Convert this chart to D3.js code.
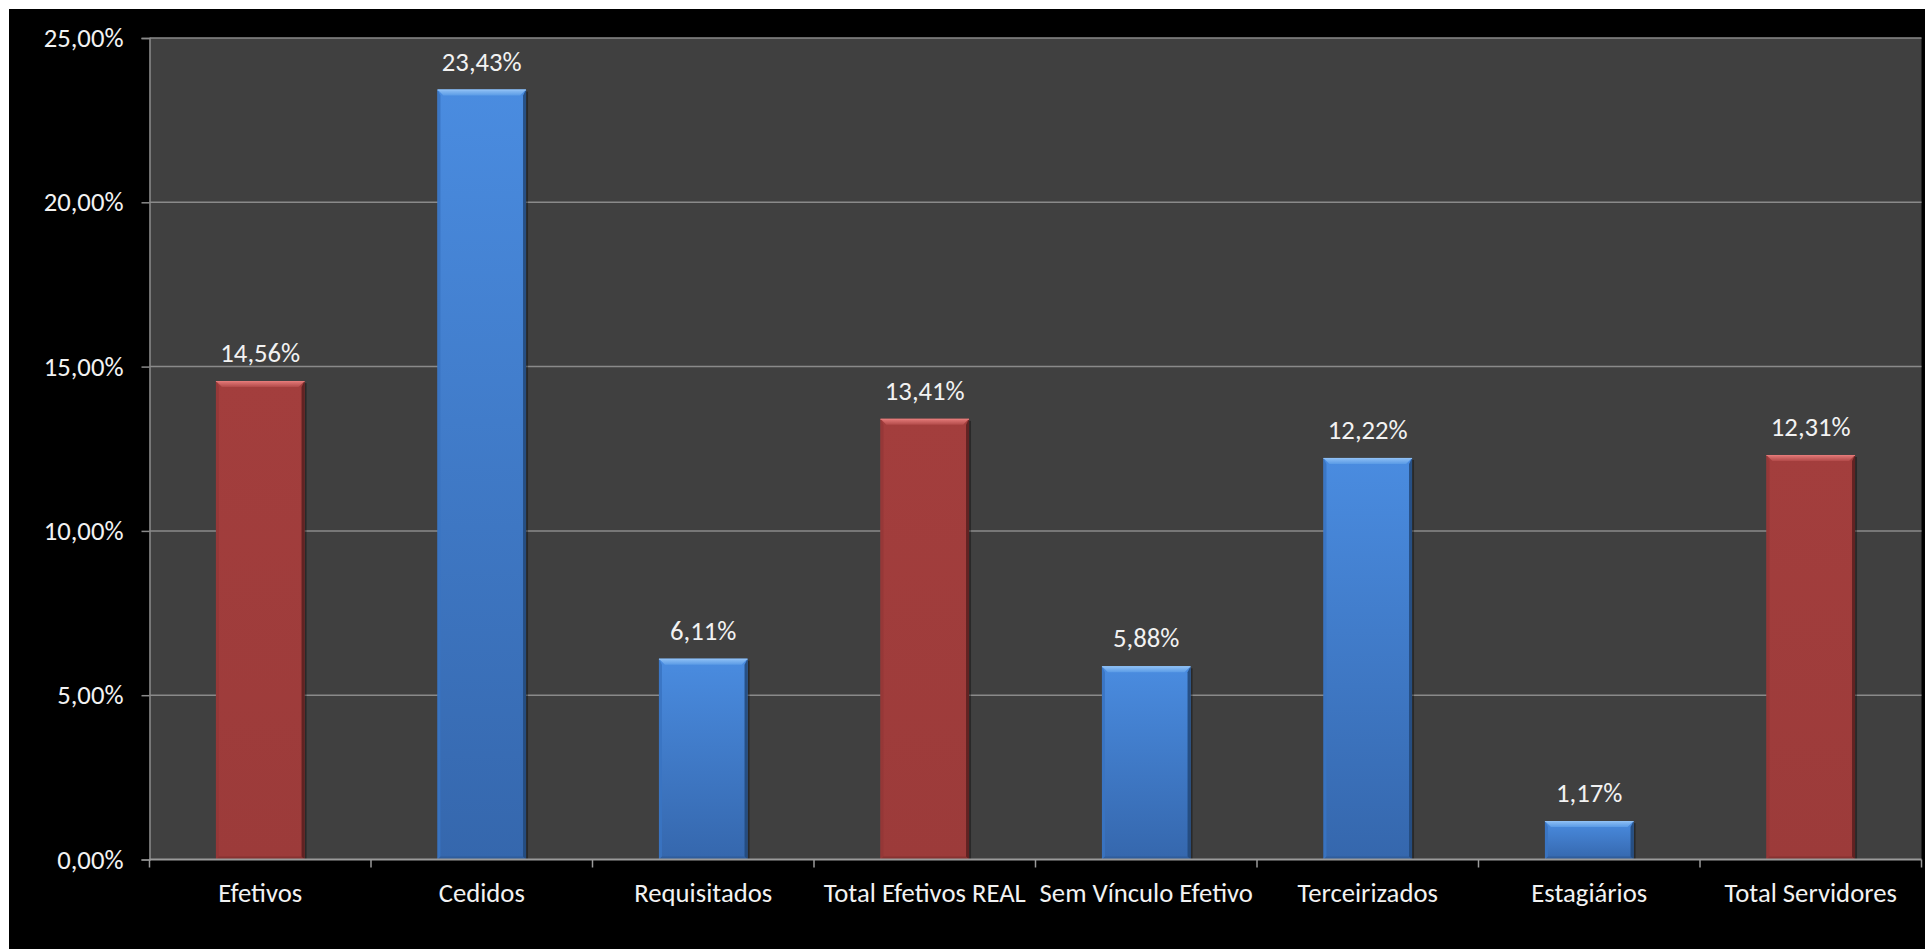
<!DOCTYPE html>
<html>
<head>
<meta charset="utf-8">
<script src="https://cdn.jsdelivr.net/npm/d3@7"></script>
<style>
  html, body { margin: 0; padding: 0; background: #ffffff; }
  svg { display: block; }
  text { font-family: Carlito, Lato, "Liberation Sans", sans-serif; }
</style>
</head>
<body>
<svg id="chart" width="1925" height="949"></svg>
<script>
const categories = ["Efetivos", "Cedidos", "Requisitados", "Total Efetivos REAL", "Sem Vínculo Efetivo", "Terceirizados", "Estagiários", "Total Servidores"];
const values = [14.56, 23.43, 6.11, 13.41, 5.88, 12.22, 1.17, 12.31];
const barKinds = ["red", "blue", "blue", "red", "blue", "blue", "blue", "red"];
const yTicks = [0, 5, 10, 15, 20, 25];

const svg = d3.select("#chart");
const W = 1925, H = 949;
const plot = { left: 149.5, right: 1921.5, top: 38, bottom: 859.5 };
const FS = 26.7;

svg.append("rect").attr("x", 9).attr("y", 9).attr("width", W - 9).attr("height", H - 9).attr("fill", "#000");
svg.append("rect").attr("x", plot.left).attr("y", plot.top)
  .attr("width", plot.right - plot.left).attr("height", plot.bottom - plot.top).attr("fill", "#404040");

const x = d3.scaleBand().domain(categories).range([plot.left, plot.right]).padding(0);
const y = d3.scaleLinear().domain([0, 25]).range([plot.bottom, plot.top]);
const fmt = v => d3.format(".2f")(v).replace(".", ",") + "%";

// gradients
const defs = svg.append("defs");
const palette = {
  blue: { top: "#4a8ce0", bottom: "#3567ad", bevelTop: ["#8fc0f5", "#5a9be6"], side: "#3a74c2", sideDark: "#24497a", bottomBevel: "#2f5d9c" },
  red:  { top: "#a33e3d", bottom: "#9c3b3a", bevelTop: ["#e47a79", "#b24a49"], side: "#953737", sideDark: "#5a2020", bottomBevel: "#873231" }
};
Object.entries(palette).forEach(([k, p]) => {
  const g = defs.append("linearGradient").attr("id", "body-" + k).attr("x1", 0).attr("y1", 0).attr("x2", 0).attr("y2", 1);
  g.append("stop").attr("offset", "0%").attr("stop-color", p.top);
  g.append("stop").attr("offset", "100%").attr("stop-color", p.bottom);
  const t = defs.append("linearGradient").attr("id", "bevel-" + k).attr("x1", 0).attr("y1", 0).attr("x2", 0).attr("y2", 1);
  t.append("stop").attr("offset", "0%").attr("stop-color", p.bevelTop[0]);
  t.append("stop").attr("offset", "100%").attr("stop-color", p.bevelTop[1]);
});

// gridlines
svg.append("g").selectAll("line").data(yTicks.filter(d => d > 0)).join("line")
  .attr("x1", plot.left).attr("x2", plot.right)
  .attr("y1", d => y(d)).attr("y2", d => y(d))
  .attr("stroke", "#8a8a8a").attr("stroke-width", 1.5);

// bars
const bw = x.bandwidth() * 0.4;
const bars = svg.append("g").selectAll("g").data(categories.map((c, i) => ({ c, v: values[i], k: barKinds[i] }))).join("g");
const bev = 6;
bars.each(function(d) {
  const g = d3.select(this);
  const x0 = x(d.c) + (x.bandwidth() - bw) / 2, x1 = x0 + bw;
  const y0 = y(d.v), y1 = y(0);
  const p = palette[d.k];
  const b = Math.min(bev, (y1 - y0) / 2);
  g.append("rect").attr("x", x0 + 2).attr("y", y0 + 2).attr("width", bw).attr("height", y1 - y0 - 2)
    .attr("fill", "#000").attr("opacity", 0.35);
  g.append("rect").attr("x", x0).attr("y", y0).attr("width", bw).attr("height", y1 - y0).attr("fill", `url(#body-${d.k})`);
  g.append("polygon").attr("points", [[x0, y0], [x0 + 3, y0 + b], [x0 + 3, y1 - 2], [x0, y1]].join(" "))
    .attr("fill", p.side).attr("opacity", 0.9);
  g.append("polygon").attr("points", [[x1, y0], [x1 - 3, y0 + b], [x1 - 3, y1 - 2], [x1, y1]].join(" "))
    .attr("fill", p.sideDark).attr("opacity", 0.9);
  g.append("polygon").attr("points", [[x0, y1], [x0 + 3, y1 - 3], [x1 - 3, y1 - 3], [x1, y1]].join(" "))
    .attr("fill", p.bottomBevel);
  g.append("polygon").attr("points", [[x0, y0], [x1, y0], [x1 - b, y0 + b], [x0 + b, y0 + b]].join(" "))
    .attr("fill", `url(#bevel-${d.k})`);
  g.append("line").attr("x1", x0).attr("x2", x1).attr("y1", y0 + 0.5).attr("y2", y0 + 0.5)
    .attr("stroke", p.bevelTop[0]).attr("stroke-width", 1);
  g.append("text").attr("x", (x0 + x1) / 2).attr("y", y0 - 19)
    .attr("text-anchor", "middle").attr("fill", "#f2f2f2").attr("font-size", FS)
    .text(fmt(d.v));
});

// y axis
const yAxis = svg.append("g").attr("transform", `translate(${plot.left},0)`)
  .call(d3.axisLeft(y).tickValues(yTicks).tickSize(8).tickPadding(18).tickFormat(fmt));
yAxis.select(".domain").attr("stroke", "#8a8a8a").attr("stroke-width", 1.5);
yAxis.selectAll(".tick line").attr("stroke", "#8a8a8a").attr("stroke-width", 1.5);
yAxis.selectAll(".tick text").attr("fill", "#f2f2f2").attr("font-size", FS)
  .attr("font-family", "Carlito, Lato, sans-serif");

// x axis
const xAxis = svg.append("g").attr("transform", `translate(0,${plot.bottom})`);
xAxis.append("line").attr("x1", plot.left).attr("x2", plot.right).attr("y1", 0).attr("y2", 0)
  .attr("stroke", "#9a9a9a").attr("stroke-width", 2);
const boundaries = categories.map(c => x(c)).concat([x(categories[categories.length - 1]) + x.bandwidth()]);
xAxis.selectAll("line.tk").data(boundaries).join("line").attr("class", "tk")
  .attr("x1", d => d).attr("x2", d => d).attr("y1", 0).attr("y2", 8)
  .attr("stroke", "#9a9a9a").attr("stroke-width", 1.5);
xAxis.selectAll("text").data(categories).join("text")
  .attr("x", d => x(d) + x.bandwidth() / 2).attr("y", 901.5 - plot.bottom)
  .attr("text-anchor", "middle").attr("fill", "#f2f2f2").attr("font-size", FS)
  .text(d => d);
</script>
</body>
</html>
